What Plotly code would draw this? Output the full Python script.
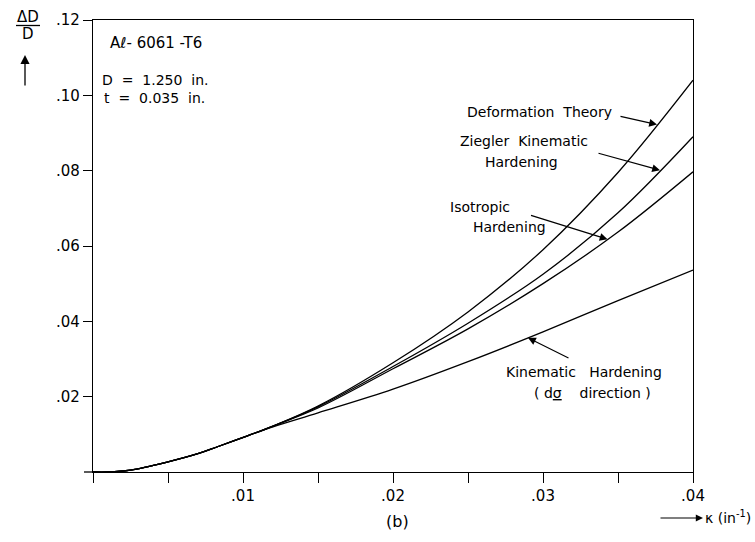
import numpy as np
import plotly.graph_objects as go

# curvature kappa (in^-1)
kappa = [0.0, 0.001, 0.0025, 0.005, 0.0071, 0.0083, 0.0103, 0.012, 0.015, 0.02, 0.025, 0.03, 0.035, 0.04]
# Delta D / D
deformation_theory = [0.0, 0.0, 0.0005, 0.0027, 0.005, 0.0067, 0.0096, 0.0122, 0.0175, 0.029, 0.0425, 0.059, 0.0795, 0.104]
ziegler_kinematic  = [0.0, 0.0, 0.0005, 0.0027, 0.005, 0.0067, 0.0096, 0.0122, 0.0173, 0.028, 0.0395, 0.0525, 0.0688, 0.089]
isotropic          = [0.0, 0.0, 0.0005, 0.0027, 0.005, 0.0067, 0.0096, 0.0122, 0.0170, 0.0274, 0.038, 0.050, 0.0637, 0.0797]
kinematic_dsigma   = [0.0, 0.0, 0.0005, 0.0027, 0.005, 0.0067, 0.0096, 0.0120, 0.0157, 0.022, 0.0293, 0.0372, 0.0455, 0.0536]

x_tickvals = [0.01, 0.02, 0.03, 0.04]
x_ticktext = [".01", ".02", ".03", ".04"]
y_tickvals = [0.02, 0.04, 0.06, 0.08, 0.10, 0.12]
y_ticktext = [".02", ".04", ".06", ".08", ".10", ".12"]

FONT = "DejaVu Sans"
fig = go.Figure()
for ys in [deformation_theory, ziegler_kinematic, isotropic, kinematic_dsigma]:
    fig.add_trace(go.Scatter(x=kappa, y=ys, mode="lines", line=dict(color="black", width=1.3, shape="spline", smoothing=1.0),
                             showlegend=False, hoverinfo="skip"))

L, R, T, B = 93, 62, 20, 70
W, H = 755, 542
pw, ph = W - L - R, H - T - B
def px(p):
    return (p - L) / pw
def py(q):
    return (H - B - q) / ph

fig.update_layout(
    width=W, height=H, margin=dict(l=L, r=R, t=T, b=B),
    paper_bgcolor="white", plot_bgcolor="white",
    font=dict(family=FONT, size=14, color="black"),
    xaxis=dict(range=[0, 0.04], tickvals=x_tickvals, ticktext=x_ticktext, ticks="outside", ticklen=10,
               tickwidth=1.2, tickcolor="black", showline=True, linecolor="black", linewidth=1.3,
               mirror=True, showgrid=False, zeroline=False, tickfont=dict(size=15),
               minor=dict(tick0=0, dtick=0.005, ticks="outside", ticklen=10, tickwidth=1.2, tickcolor="black", showgrid=False)),
    yaxis=dict(range=[0, 0.12], tickvals=y_tickvals, ticktext=y_ticktext, ticks="outside", ticklen=9,
               tickwidth=1.2, tickcolor="black", showline=True, linecolor="black", linewidth=1.3,
               mirror=True, showgrid=False, zeroline=False, tickfont=dict(size=15)),
)

ann = []
def txt(x, y, s, xa="left", size=14):
    ann.append(dict(x=px(x), y=py(y), xref="paper", yref="paper", text=s, showarrow=False,
                    xanchor=xa, yanchor="middle", font=dict(size=size, family=FONT)))

# material info
txt(108, 43, "Aℓ- 6061 -T6", size=15)
txt(100, 80, "D  =  1.250  in.")
txt(102, 98, "t  =  0.035  in.")

# curve labels
txt(614, 112, "Deformation  Theory", xa="right")
txt(590, 141, "Ziegler  Kinematic", xa="right")
txt(560, 162, "Hardening", xa="right")
txt(512, 207, "Isotropic", xa="right")
txt(548, 227, "Hardening", xa="right")
txt(664, 372, "Kinematic   Hardening", xa="right")
txt(653, 393, "( d<u>σ</u>    direction )", xa="right")

def arrow_to(series, k, ax, ay):
    v = float(np.interp(k, kappa, series))
    ann.append(dict(x=k, y=v, xref="x", yref="y", ax=ax, ay=ay, axref="pixel", ayref="pixel",
                    text=" ", showarrow=True, arrowhead=2, arrowsize=1.3, arrowwidth=1.2, arrowcolor="black"))

arrow_to(deformation_theory, 0.0376, -40, -9)
arrow_to(ziegler_kinematic, 0.0378, -65, -18)
arrow_to(isotropic, 0.0343, -80, -25)
arrow_to(kinematic_dsigma, 0.029, 44, 22)

# axis labels
ann.append(dict(x=px(28), y=py(17), xref="paper", yref="paper", text="ΔD", showarrow=False,
                xanchor="center", yanchor="middle", font=dict(size=15, family=FONT)))
ann.append(dict(x=px(28), y=py(34), xref="paper", yref="paper", text="D", showarrow=False,
                xanchor="center", yanchor="middle", font=dict(size=15, family=FONT)))
ann.append(dict(x=px(25), y=py(55), xref="paper", yref="paper", ax=0, ay=40, text=" ", showarrow=True,
                arrowhead=2, arrowsize=1.4, arrowwidth=1.3, arrowcolor="black"))
ann.append(dict(x=px(703), y=py(518), xref="paper", yref="paper", ax=-46, ay=0, text=" ", showarrow=True,
                arrowhead=2, arrowsize=1.2, arrowwidth=1.2, arrowcolor="black"))
ann.append(dict(x=px(703), y=py(517), xref="paper", yref="paper", text="κ (in<sup>-1</sup>)", showarrow=False,
                xanchor="left", yanchor="middle", font=dict(size=14, family=FONT)))
ann.append(dict(x=px(397), y=py(521), xref="paper", yref="paper", text="(b)", showarrow=False,
                xanchor="center", yanchor="middle", font=dict(size=16, family=FONT)))

fig.update_layout(annotations=ann,
                  shapes=[dict(type="line", xref="paper", yref="paper", x0=px(16), x1=px(40), y0=py(25.5), y1=py(25.5),
                               line=dict(color="black", width=1.3)),
                          dict(type="line", xref="paper", yref="paper", x0=px(84), x1=px(93), y0=py(472), y1=py(472),
                               line=dict(color="black", width=1.3))])

fig.write_html("out.html")
